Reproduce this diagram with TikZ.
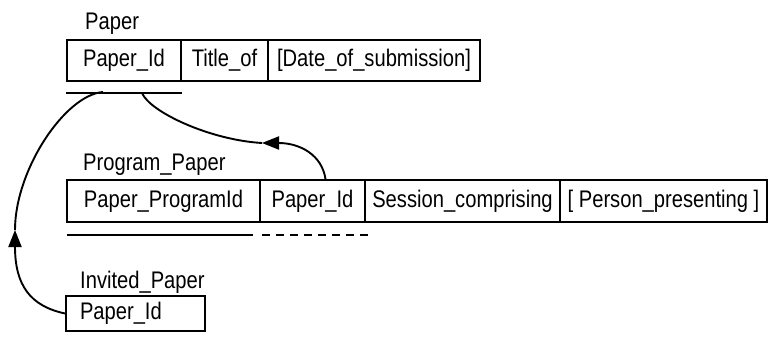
\documentclass[tikz,border=0pt]{standalone}
\usepackage{fontspec}
\setmainfont[FakeStretch=0.84]{Liberation Sans}
\usetikzlibrary{arrows.meta}
\begin{document}
\begin{tikzpicture}[x=1pt,y=-1pt,
  txt/.style={font=\fontsize{24}{28}\selectfont},
  cell/.style={draw, txt, inner sep=0pt, line width=1.9pt},
  lbl/.style={txt, anchor=base west, inner sep=0pt},
  keyline/.style={line width=1.9pt},
  link/.style={line width=1.9pt},
  tip/.style={-{Triangle[length=17pt,width=13pt]}}]
\useasboundingbox (0,0) rectangle (772,337);

% Paper
\node[lbl] (lpaper) at (85,30) {Paper};
\node[cell, minimum width=114pt, minimum height=41pt] (pid) at (124,60.5) {Paper\_Id};
\node[cell, minimum width=87pt, minimum height=41pt] (ptitle) at (224.5,60.5) {Title\_of};
\node[cell, minimum width=212pt, minimum height=41pt] (pdate) at (374,60.5) {[Date\_of\_submission]};
\coordinate (pu0) at (66,93);
\coordinate (pu1) at (182,93);
\draw[keyline] (pu0) -- (pu1);

% Program_Paper
\node[lbl] (lprog) at (83,171) {Program\_Paper};
\node[cell, minimum width=193pt, minimum height=42pt] (pp1) at (163.5,201) {Paper\_ProgramId};
\node[cell, minimum width=105pt, minimum height=42pt] (pp2) at (312.5,201) {Paper\_Id};
\node[cell, minimum width=195pt, minimum height=42pt] (pp3) at (462.5,201) {Session\_comprising};
\node[cell, minimum width=207pt, minimum height=42pt] (pp4) at (663.5,201) {[ Person\_presenting ]};
\coordinate (ppu0) at (67,235);
\coordinate (ppu1) at (253,235);
\coordinate (ppu2) at (262,235);
\coordinate (ppu3) at (368,235);
\draw[keyline] (ppu0) -- (ppu1);
\draw[keyline, dash pattern=on 8pt off 6pt] (ppu2) -- (ppu3);

% Invited_Paper
\node[lbl] (linv) at (80,288) {Invited\_Paper};
\node[cell, text width=111pt, inner xsep=14pt, align=left, minimum height=35pt] (ip) at (135.5,313.5) {Paper\_Id};

% connectors
\coordinate (fk1) at (142,93);
\coordinate (tip1) at (262,143);
\coordinate (s1) at ([xshift=13pt]pp2.north);
\draw[link,tip] (s1) .. controls (322,155) and (300,143) .. (tip1);
\draw[link] (tip1) .. controls (210,140) and (150,112) .. (fk1);

\coordinate (fk2) at (103,92);
\coordinate (tip2) at (15,230);
\draw[link,tip] (ip.west) .. controls (30,306) and (15,285) .. (tip2);
\draw[link] (tip2) .. controls (15,170) and (65,95) .. (fk2);
\end{tikzpicture}
\end{document}
